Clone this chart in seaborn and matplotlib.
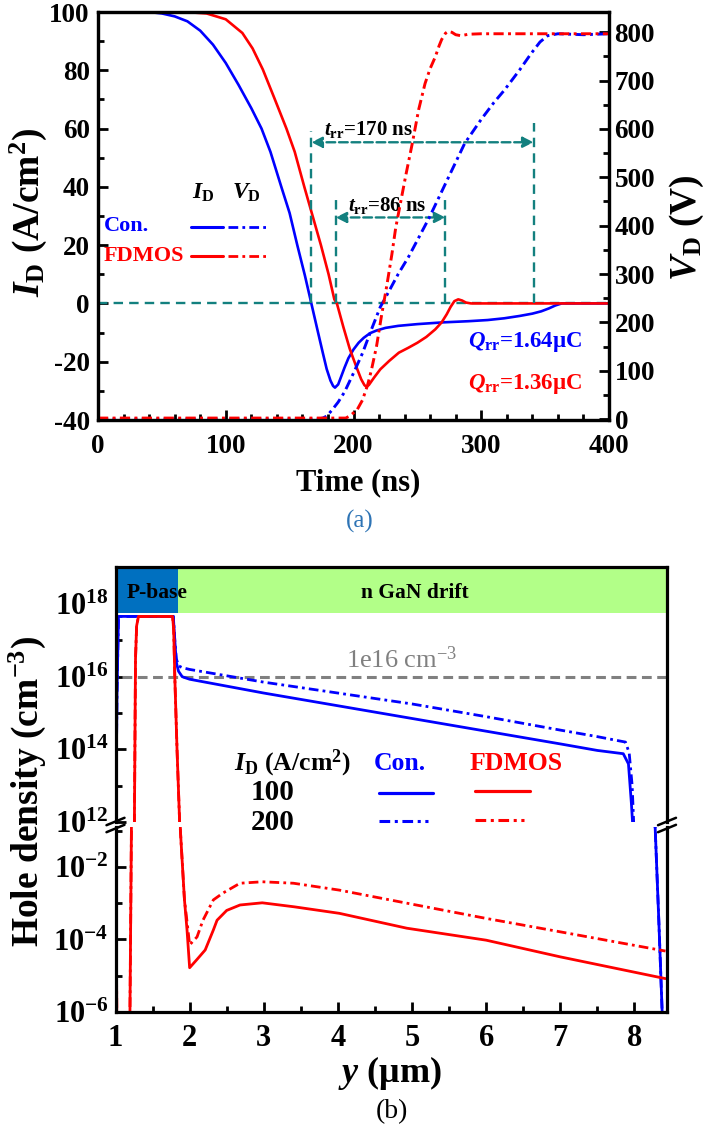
import matplotlib
matplotlib.use("Agg")
import numpy as np
import matplotlib.pyplot as plt
import seaborn as sns
from matplotlib.lines import Line2D
from matplotlib.ticker import MultipleLocator, FixedLocator, NullFormatter, FuncFormatter

# ---------------- data: panel (a) ----------------
t_con_id = [0, 40, 50, 60, 70, 80, 90, 100, 110, 120, 128, 135, 143.5, 150, 156, 162, 167,
            172, 176, 179, 182, 184, 185.5, 188, 190, 193, 196, 200, 204, 208, 213, 218, 225,
            235, 250, 270, 290, 305, 318, 330, 340, 347, 353, 358, 363, 400]
id_con = [100, 100, 99.5, 98.5, 96.8, 93.6, 88.8, 82.5, 75, 67, 60, 52, 40, 31, 20, 9.5, 0,
          -9.5, -17, -22.5, -26.5, -28.3, -28.9, -27.8, -25.5, -22, -18.8, -15.8, -13.5, -11.8, -10.2, -9.3, -8.4,
          -7.7, -7.1, -6.5, -6.1, -5.7, -5.1, -4.3, -3.5, -2.7, -1.7, -0.7, 0, 0]

t_fd_id = [0, 60, 75, 85, 100, 113, 121, 129, 138, 147.5, 154, 161.5, 168, 174.5, 180.5, 185, 187,
           192, 197, 202, 206, 208.5, 210, 212, 216, 221, 228, 235.5, 243, 250, 257, 264, 269, 273,
           276, 279, 282, 285, 288, 292, 400]
id_fd = [100, 100, 99.8, 99.5, 97.5, 92.8, 87.5, 80.3, 70.5, 60, 52, 40, 30, 20, 10, 1.4, 0,
         -8, -15.5, -21.5, -26, -28, -28.6, -28, -25.5, -22.6, -19.7, -16.9, -15.2, -13.5, -11.5, -8.9, -6.5, -3.7,
         -1.2, 0.8, 1.4, 1.0, 0.3, 0, 0]

t_con_v = [0, 172, 176, 179, 183, 188, 193, 200, 207, 214, 221, 224, 235, 243, 259, 272, 287, 300,
           310, 318, 330, 339, 346, 352, 360, 380, 400]
v_con = [0, 0, 2, 6, 18, 35, 56, 95, 136, 185, 232, 246, 300, 335, 415, 487, 570, 620,
         655, 680, 722, 756, 780, 793, 797, 795, 797]

t_fd_v = [0, 194, 198, 203, 207, 211, 214, 218, 222, 226, 230, 233, 237, 241, 246, 251, 256, 260,
          264, 267, 269, 272, 274, 277, 280, 284, 290, 300, 400]
v_fd = [2, 2, 8, 20, 39, 70, 101, 150, 215, 275, 340, 395, 450, 505, 570, 640, 694, 725,
        749, 772, 785, 798, 802, 800, 795, 793, 796, 797, 797]

trr_long = [167, 341]       # ns, t_rr = 170 ns
trr_short = [186, 272]      # ns, t_rr = 86 ns

# ---------------- data: panel (b) (log10 of hole density) ----------------
y_con100 = [1.0, 1.02, 1.04, 1.78, 1.80, 1.82, 1.85, 1.9, 2.0, 3.0, 4.0, 5.0, 6.0, 7.0, 7.5, 7.85,
            7.92, 7.96, 7.99, 8.1, 8.2, 8.28, 8.33, 8.38]
log_con100 = [11.0, 15.5, 17.66, 17.66, 17.0, 16.4, 16.15, 16.0, 15.93, 15.55, 15.2, 14.85, 14.5, 14.15,
              13.97, 13.88, 13.6, 12.5, 11.5, 6.0, 2.0, -0.9, -3.5, -6.3]
y_con200 = [1.0, 1.02, 1.04, 1.78, 1.80, 1.82, 1.85, 1.9, 2.0, 3.0, 4.0, 5.0, 6.0, 7.0, 7.5, 7.88,
            7.93, 7.97, 8.0, 8.1, 8.2, 8.28, 8.33, 8.38]
log_con200 = [11.0, 15.5, 17.66, 17.66, 17.0, 16.5, 16.3, 16.25, 16.2, 15.85, 15.55, 15.25, 14.9, 14.53,
              14.35, 14.2, 13.9, 13.0, 11.5, 6.0, 2.0, -0.9, -3.5, -6.3]
y_fd100 = [1.0, 1.003, 1.02, 1.19, 1.195, 1.215, 1.255, 1.27, 1.285, 1.31, 1.77, 1.785, 1.80, 1.83,
           1.865, 1.875, 1.93, 1.965, 2.0, 2.1, 2.21, 2.32, 2.37, 2.5, 2.68, 2.98, 3.41, 4.02, 4.93,
           6.0, 7.0, 8.42]
log_fd100 = [3.0, -0.9, -7.0, -7.0, -6.0, -0.9, 12.0, 16.5, 17.4, 17.66, 17.66, 17.3, 16.0, 14.0,
             12.0, -0.98, -2.9, -3.74, -4.78, -4.55, -4.29, -3.74, -3.47, -3.2, -3.05, -2.99, -3.1, -3.28, -3.69,
             -4.02, -4.48, -5.08]
y_fd200 = [1.0, 1.003, 1.02, 1.19, 1.195, 1.215, 1.255, 1.27, 1.285, 1.31, 1.77, 1.785, 1.80, 1.83,
           1.865, 1.875, 1.93, 1.97, 2.0, 2.1, 2.18, 2.32, 2.45, 2.68, 2.98, 3.4, 4.02, 4.93, 6.0,
           7.0, 8.42]
log_fd200 = [3.0, -0.9, -7.0, -7.0, -6.0, -0.9, 12.0, 16.5, 17.4, 17.66, 17.66, 17.3, 16.0, 14.0,
             12.0, -0.98, -2.9, -3.6, -4.15, -3.93, -3.47, -2.91, -2.72, -2.45, -2.41, -2.45, -2.64, -3.0, -3.42,
             -3.79, -4.32]

pbase_end = 1.84
band_bottom_log = 17.74

# ---------------- style ----------------
sns.set_style("ticks")
plt.rcParams.update({
    "font.family": ["Liberation Serif", "DejaVu Serif"],
    "font.weight": "bold",
    "mathtext.fontset": "custom",
    "mathtext.rm": "Liberation Serif:bold",
    "mathtext.it": "Liberation Serif:italic:bold",
    "mathtext.bf": "Liberation Serif:bold",
    "mathtext.default": "regular",
    "axes.unicode_minus": False,
    "axes.edgecolor": "black",
    "xtick.color": "black",
    "ytick.color": "black",
    "text.color": "black",
    "axes.labelcolor": "black",
})

W, H = 708, 1135
BLUE, RED, TEAL, GREY = "#0000FF", "#FF0000", "#13807F", "#808080"
DASHDOT = (0, (3.5, 1.5, 1.0, 1.5))
DASH = (0, (4.0, 2.6))

fig = plt.figure(figsize=(W / 100, H / 100), dpi=100)


def fx(px):
    return px / W


def fy(py):
    return 1 - py / H


def ftext(x, y, s, **kw):
    kw.setdefault("ha", "left")
    kw.setdefault("va", "center")
    return fig.text(fx(x), fy(y), s, **kw)


def fline(x0, x1, y0, y1, **kw):
    fig.add_artist(Line2D([fx(x0), fx(x1)], [fy(y0), fy(y1)], transform=fig.transFigure, **kw))


# ================= panel (a) =================
ax = fig.add_axes([fx(98), fy(420), (609 - 98) / W, 408 / H])
ax2 = ax.twinx()

sns.lineplot(x=t_con_id, y=id_con, ax=ax, color=BLUE, linewidth=1.9, sort=False, estimator=None)
sns.lineplot(x=t_fd_id, y=id_fd, ax=ax, color=RED, linewidth=1.9, sort=False, estimator=None)
sns.lineplot(x=t_con_v, y=v_con, ax=ax2, color=BLUE, linewidth=2.1, linestyle=DASHDOT, sort=False, estimator=None)
sns.lineplot(x=t_fd_v, y=v_fd, ax=ax2, color=RED, linewidth=2.1, linestyle=DASHDOT, sort=False, estimator=None)

ax.set_xlim(0, 400)
ax.set_ylim(-40, 100)
ax2.set_ylim(-2, 842)
ax.set_xlabel("")
ax.set_ylabel("")
ax2.set_ylabel("")

# t_rr annotation
ax.axhline(0, color=TEAL, lw=1.7, ls=DASH, zorder=1)
ax.plot([trr_long[0]] * 2, [0, 59], color=TEAL, lw=1.7, ls=DASH)
ax.plot([trr_long[1]] * 2, [0, 61.8], color=TEAL, lw=1.7, ls=DASH)
ax.plot([trr_short[0]] * 2, [0, 37.4], color=TEAL, lw=1.7, ls=DASH)
ax.plot([trr_short[1]] * 2, [0, 35.7], color=TEAL, lw=1.7, ls=DASH)
for (a, b), yy in ((trr_long, 55.3), (trr_short, 29.5)):
    ax.annotate("", xy=(b, yy), xytext=(a, yy),
                arrowprops=dict(arrowstyle="<|-|>", color=TEAL, lw=1.7, ls="--",
                                mutation_scale=16, shrinkA=0, shrinkB=0))
ax.text(177, 59.6, r"$\mathit{t}_{\mathrm{rr}}$=170 ns", fontsize=15, ha="left", va="center")
ax.text(196, 33.5, r"$\mathit{t}_{\mathrm{rr}}$=86 ns", fontsize=15, ha="left", va="center")
ax.text(290, -13.4, r"$\mathit{Q}_{\mathrm{rr}}$=1.64μC", fontsize=16.5, color=BLUE, ha="left", va="center")
ax.text(290, -27.5, r"$\mathit{Q}_{\mathrm{rr}}$=1.36μC", fontsize=16.5, color=RED, ha="left", va="center")

ax.xaxis.set_major_locator(MultipleLocator(100))
ax.xaxis.set_minor_locator(MultipleLocator(20))
ax.yaxis.set_major_locator(MultipleLocator(20))
ax.yaxis.set_minor_locator(MultipleLocator(10))
ax2.yaxis.set_major_locator(MultipleLocator(100))
ax2.yaxis.set_minor_locator(MultipleLocator(50))
ax.tick_params(which="both", direction="in", top=False, right=False, width=2)
ax.tick_params(which="major", length=7, labelsize=19.5)
ax.tick_params(which="minor", length=4)
ax.tick_params(axis="x", pad=10)
ax.tick_params(axis="y", pad=6)
ax2.tick_params(which="both", direction="in", right=True, left=False, width=2)
ax2.tick_params(which="major", length=7, labelsize=19.5, pad=4)
ax2.tick_params(which="minor", length=4)
for a in (ax, ax2):
    for sp in a.spines.values():
        sp.set_linewidth(2.3)

ftext(28, 212, r"$\mathit{I}_{\mathrm{D}}$ (A/cm$^{2}$)", fontsize=27, rotation=90, ha="center")
ftext(687, 228, r"$\mathit{V}_{\mathrm{D}}$ (V)", fontsize=27, rotation=90, ha="center")
ftext(358, 483, "Time (ns)", fontsize=22, ha="center")
ftext(360, 521, "(a)", fontsize=18, ha="center", color="#2E74B5", fontweight="normal")

# legend (a)
ftext(192, 193, r"$\mathit{I}_{\mathrm{D}}$", fontsize=17)
ftext(232, 193, r"$\mathit{V}_{\mathrm{D}}$", fontsize=17)
ftext(104, 226, "Con.", fontsize=16, color=BLUE)
ftext(104, 256, "FDMOS", fontsize=16, color=RED)
fline(191, 223, 227, 227, color=BLUE, lw=2.2)
fline(228, 266, 227, 227, color=BLUE, lw=2.0, ls=DASHDOT)
fline(191, 223, 256, 256, color=RED, lw=2.2)
fline(228, 266, 256, 256, color=RED, lw=2.0, ls=DASHDOT)

# ================= panel (b) =================
axU = fig.add_axes([fx(115.5), fy(822), (667 - 115.5) / W, (822 - 567) / H])
axL = fig.add_axes([fx(115.5), fy(1012), (667 - 115.5) / W, (1012 - 827) / H], sharex=axU)

series = [
    (y_con100, log_con100, BLUE, "-"),
    (y_con200, log_con200, BLUE, DASHDOT),
    (y_fd100, log_fd100, RED, "-"),
    (y_fd200, log_fd200, RED, DASHDOT),
]
for a in (axU, axL):
    for xs, ls_, col, sty in series:
        sns.lineplot(x=xs, y=[10.0 ** v for v in ls_], ax=a, color=col, linewidth=2.0,
                     linestyle=sty, sort=False, estimator=None)
    a.set_yscale("log")
    a.set_xlabel("")
    a.set_ylabel("")
    for sp in a.spines.values():
        sp.set_linewidth(2.3)

axU.set_xlim(1, 8.44)
axU.set_ylim(1e12, 10 ** 19.02)
axL.set_ylim(1e-6, 10 ** -0.9)

axU.spines["bottom"].set_visible(False)
axL.spines["top"].set_visible(False)

fmt = FuncFormatter(lambda v, p: "10$^{%d}$" % int(round(np.log10(v))))
axU.yaxis.set_major_locator(FixedLocator([1e12, 1e14, 1e16, 1e18]))
axU.yaxis.set_minor_locator(FixedLocator([1e13, 1e15, 1e17]))
axL.yaxis.set_major_locator(FixedLocator([1e-6, 1e-4, 1e-2]))
axL.yaxis.set_minor_locator(FixedLocator([1e-5, 1e-3, 1e-1]))
for a in (axU, axL):
    a.yaxis.set_major_formatter(fmt)
    a.yaxis.set_minor_formatter(NullFormatter())
    a.tick_params(axis="y", which="both", direction="in", left=True, right=False, width=2)
    a.tick_params(axis="y", which="major", length=7, labelsize=22, pad=5)
    a.tick_params(axis="y", which="minor", length=4)
axU.tick_params(axis="x", which="both", bottom=False, top=False, labelbottom=False)
axL.xaxis.set_major_locator(MultipleLocator(1))
axL.xaxis.set_minor_locator(MultipleLocator(0.5))
axL.tick_params(axis="x", which="both", direction="in", bottom=True, top=False, width=2)
axL.tick_params(axis="x", which="major", length=7, labelsize=22, pad=9)
axL.tick_params(axis="x", which="minor", length=4)

# region bands
frac = (band_bottom_log - 12) / (19.02 - 12)
axU.axvspan(1, pbase_end, ymin=frac, ymax=1, color="#0070C0", lw=0, zorder=2.2)
axU.axvspan(pbase_end, 8.44, ymin=frac, ymax=1, color="#B2FF88", lw=0, zorder=2.2)
ftext(157, 593, "P-base", fontsize=15.5, ha="center", zorder=5)
ftext(415, 593, "n GaN drift", fontsize=15.5, ha="center", zorder=5)

axU.axhline(1e16, xmin=0.012, color=GREY, lw=2.2, ls=(0, (3.2, 1.8)), zorder=1.5)
ftext(402, 660, "1e16 cm$^{-3}$", fontsize=19, ha="center", color=GREY, fontweight="normal")

# axis break marks
for xs in (115.5, 667):
    for yc in (821.5, 828.5):
        fline(xs - 9, xs + 9, yc + 3.7, yc - 3.7, color="black", lw=1.8)

# labels
ftext(27, 792, "Hole density (cm$^{-3}$)", fontsize=27, rotation=90, ha="center")
ftext(390, 1073, r"$\mathit{y}$ (μm)", fontsize=26, ha="center")
ftext(392, 1112, "(b)", fontsize=20, ha="center", fontweight="normal")

# legend (b)
ftext(234, 763, r"$\mathit{I}_{\mathrm{D}}$ (A/cm$^{2}$)", fontsize=18.5)
ftext(374, 763, "Con.", fontsize=18.5, color=BLUE)
ftext(470, 763, "FDMOS", fontsize=18.5, color=RED)
ftext(273, 793, "100", fontsize=21, ha="center")
ftext(273, 822, "200", fontsize=21, ha="center")
fline(379, 433, 792.5, 792.5, color=BLUE, lw=2.3)
fline(475, 530, 791, 791, color=RED, lw=2.3)
fline(379, 428, 821, 821, color=BLUE, lw=2.2, ls=DASHDOT)
fline(475, 524, 820, 820, color=RED, lw=2.2, ls=DASHDOT)

fig.savefig("out.png", dpi=100)
